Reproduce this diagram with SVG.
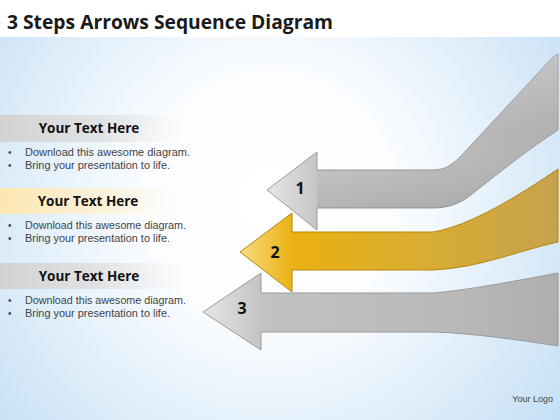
<svg xmlns="http://www.w3.org/2000/svg" width="560" height="420" viewBox="0 0 560 420">
<defs>
<radialGradient id="bg" cx="270" cy="200" r="360" gradientUnits="userSpaceOnUse">
<stop offset="0" stop-color="#ffffff"/>
<stop offset="0.35" stop-color="#fbfdff"/>
<stop offset="1" stop-color="#c6e0f5"/>
</radialGradient>
<linearGradient id="bandGray" x1="0" y1="0" x2="1" y2="0">
<stop offset="0" stop-color="#d2d2d2"/>
<stop offset="0.55" stop-color="#dedede" stop-opacity="0.8"/>
<stop offset="1" stop-color="#e8e8e8" stop-opacity="0"/>
</linearGradient>
<linearGradient id="bandYellow" x1="0" y1="0" x2="1" y2="0">
<stop offset="0" stop-color="#fde6b0"/>
<stop offset="0.55" stop-color="#fdf0d2" stop-opacity="0.8"/>
<stop offset="1" stop-color="#fff6e0" stop-opacity="0"/>
</linearGradient>
<linearGradient id="gGray1" x1="267" y1="0" x2="558" y2="0" gradientUnits="userSpaceOnUse">
<stop offset="0" stop-color="#e6e6e6"/>
<stop offset="0.18" stop-color="#c4c4c4"/>
<stop offset="0.7" stop-color="#b9b9b9"/>
<stop offset="1" stop-color="#b0b0b0"/>
</linearGradient>
<linearGradient id="gGray3" x1="203" y1="0" x2="558" y2="0" gradientUnits="userSpaceOnUse">
<stop offset="0" stop-color="#e6e6e6"/>
<stop offset="0.17" stop-color="#c2c2c2"/>
<stop offset="0.7" stop-color="#b9b9b9"/>
<stop offset="1" stop-color="#aeaeae"/>
</linearGradient>
<linearGradient id="gYellow" x1="240" y1="0" x2="558" y2="0" gradientUnits="userSpaceOnUse">
<stop offset="0" stop-color="#f8dc80"/>
<stop offset="0.17" stop-color="#e9b010"/>
<stop offset="0.55" stop-color="#d9ae30"/>
<stop offset="1" stop-color="#c6a24e"/>
</linearGradient>
<linearGradient id="shade" x1="0" y1="0" x2="0" y2="1">
<stop offset="0" stop-color="#ffffff" stop-opacity="0.25"/>
<stop offset="0.5" stop-color="#ffffff" stop-opacity="0"/>
<stop offset="1" stop-color="#000000" stop-opacity="0.08"/>
</linearGradient>
</defs>
<style>
.title{font-family:"Open Sans","Liberation Sans",sans-serif;font-weight:bold;font-size:19px;fill:#1a1a1a}
.head{font-family:"Open Sans","Liberation Sans",sans-serif;font-weight:bold;font-size:13.5px;fill:#111}
.bul{font-family:"Liberation Sans",sans-serif;font-size:10px;fill:#444}
.num{font-family:"Open Sans","Liberation Sans",sans-serif;font-weight:bold;font-size:16px;fill:#111}
.logo{font-family:"Liberation Sans",sans-serif;font-size:9px;fill:#444}
.arrG{stroke:#9a9a9a;stroke-width:1}
.arrY{stroke:#b8860b;stroke-width:1}
</style>
<rect x="0" y="0" width="560" height="420" fill="#ffffff"/>
<rect x="0" y="37" width="560" height="383" fill="url(#bg)"/>
<text class="title" x="7" y="29" textLength="326" lengthAdjust="spacingAndGlyphs">3 Steps Arrows Sequence Diagram</text>

<g id="panel1">
<rect x="0" y="115" width="185" height="27" fill="url(#bandGray)"/>
<text class="head" x="89" y="133" text-anchor="middle">Your Text Here</text>
<text class="bul" x="8" y="156">•</text>
<text class="bul" x="25" y="156" textLength="165" lengthAdjust="spacingAndGlyphs">Download this awesome diagram.</text>
<text class="bul" x="8" y="169">•</text>
<text class="bul" x="25" y="169" textLength="145" lengthAdjust="spacingAndGlyphs">Bring your presentation to life.</text>
</g>
<g id="panel2">
<rect x="0" y="188" width="185" height="26" fill="url(#bandYellow)"/>
<text class="head" x="88" y="206" text-anchor="middle">Your Text Here</text>
<text class="bul" x="8" y="229">•</text>
<text class="bul" x="25" y="229" textLength="161" lengthAdjust="spacingAndGlyphs">Download this awesome diagram.</text>
<text class="bul" x="8" y="242">•</text>
<text class="bul" x="25" y="242" textLength="145" lengthAdjust="spacingAndGlyphs">Bring your presentation to life.</text>
</g>
<g id="panel3">
<rect x="0" y="263" width="185" height="26" fill="url(#bandGray)"/>
<text class="head" x="89" y="281" text-anchor="middle">Your Text Here</text>
<text class="bul" x="8" y="304">•</text>
<text class="bul" x="25" y="304" textLength="161" lengthAdjust="spacingAndGlyphs">Download this awesome diagram.</text>
<text class="bul" x="8" y="317">•</text>
<text class="bul" x="25" y="317" textLength="145" lengthAdjust="spacingAndGlyphs">Bring your presentation to life.</text>
</g>

<g id="arrow1">
<path class="arrG" fill="url(#gGray1)" d="M267,190 L317,152 L317,170 L432,170 C445,170 452,165 460,157 L553,57 L558,54 L558,130 C530,148 500,172 472,194 C460,204 448,208 432,208 L317,208 L317,230 Z"/>
<path fill="url(#shade)" d="M317,170 L432,170 C445,170 452,165 460,157 L553,57 L558,54 L558,130 C530,148 500,172 472,194 C460,204 448,208 432,208 L317,208 Z"/>
<text class="num" x="300" y="194" text-anchor="middle">1</text>
</g>
<g id="arrow2">
<path class="arrY" fill="url(#gYellow)" d="M240,252 L292,213 L292,232 L433,232 C470,226 520,195 558,169 L558,242 C520,250 480,268 433,270 L292,270 L292,292 Z"/>
<text class="num" x="275" y="258" text-anchor="middle">2</text>
</g>
<g id="arrow3">
<path class="arrG" fill="url(#gGray3)" d="M203,312 L261,273 L261,293 L433,293 C470,290 520,280 558,273 L558,346 C520,340 470,333 433,332 L261,332 L261,350 Z"/>
<text class="num" x="242" y="314" text-anchor="middle">3</text>
</g>

<text class="logo" x="553" y="402" text-anchor="end">Your Logo</text>
</svg>
